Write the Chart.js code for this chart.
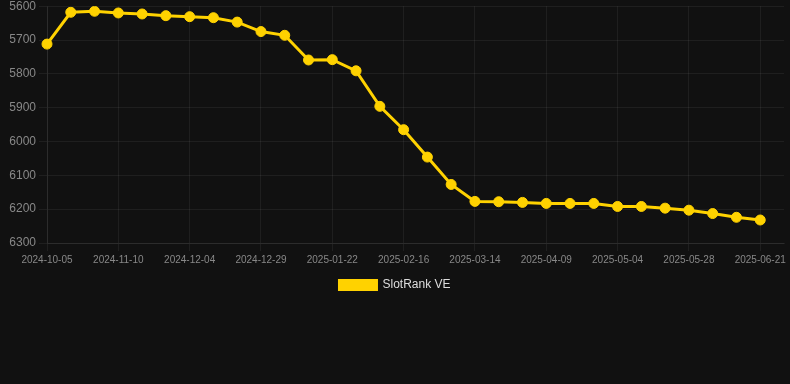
<!DOCTYPE html>
<html>
<head>
<meta charset="utf-8">
<script src="https://cdn.jsdelivr.net/npm/chart.js@4"></script>
<style>
  html, body { margin: 0; padding: 0; background: #111111; overflow: hidden; }
  #wrap { position: relative; width: 790px; height: 305px; margin-top: -4px; }
</style>
</head>
<body>
<div id="wrap"><canvas id="c"></canvas></div>
<script>
const categories = [
  '2024-10-05','2024-10-17','2024-10-29','2024-11-10','2024-11-18','2024-11-26',
  '2024-12-04','2024-12-12','2024-12-20','2024-12-29','2025-01-06','2025-01-14',
  '2025-01-22','2025-01-30','2025-02-07','2025-02-16','2025-02-24','2025-03-05',
  '2025-03-14','2025-03-22','2025-03-31','2025-04-09','2025-04-17','2025-04-25',
  '2025-05-04','2025-05-12','2025-05-20','2025-05-28','2025-06-05','2025-06-13',
  '2025-06-21',''
];
const seriesName = 'SlotRank VE';
const rankValues = [
  5712, 5618, 5615, 5620, 5623, 5628, 5631, 5634, 5647, 5675, 5686,
  5759, 5758, 5791, 5896, 5965, 6046, 6127, 6177, 6178, 6180, 6183,
  6183, 6183, 6192, 6192, 6197, 6203, 6213, 6224, 6232
];
const yTicks = { min: 5600, max: 6300, step: 100 };

const gold = '#ffd200';
new Chart(document.getElementById('c'), {
  type: 'line',
  data: {
    labels: categories,
    datasets: [{
      label: seriesName,
      data: rankValues,
      borderColor: gold,
      backgroundColor: gold,
      borderWidth: 3,
      pointRadius: 5,
      pointBorderWidth: 1,
      pointBackgroundColor: gold,
      pointBorderColor: gold,
      tension: 0
    }]
  },
  options: {
    responsive: true,
    maintainAspectRatio: false,
    animation: false,
    layout: { padding: 0 },
    plugins: {
      legend: {
        position: 'bottom',
        labels: {
          color: '#dddddd',
          boxWidth: 37,
          boxHeight: 9,
          font: { family: 'Liberation Sans, Arial, sans-serif', size: 12 }
        }
      },
      tooltip: { enabled: false }
    },
    scales: {
      x: {
        grid: { color: 'rgba(255,255,255,0.06)', tickLength: 8 },
        border: { color: 'rgba(255,255,255,0.06)' },
        ticks: {
          color: '#888888',
          autoSkip: true,
          maxTicksLimit: 11,
          maxRotation: 0,
          font: { family: 'Liberation Sans, Arial, sans-serif', size: 10 }
        }
      },
      y: {
        reverse: true,
        min: yTicks.min,
        max: yTicks.max,
        afterFit: (scale) => { scale.width = 47; },
        grid: { color: 'rgba(255,255,255,0.06)', tickLength: 8 },
        border: { color: 'rgba(255,255,255,0.06)' },
        ticks: {
          stepSize: yTicks.step,
          color: '#888888',
          callback: (v) => String(v),
          font: { family: 'Liberation Sans, Arial, sans-serif', size: 12 }
        }
      }
    }
  }
});
</script>
</body>
</html>
